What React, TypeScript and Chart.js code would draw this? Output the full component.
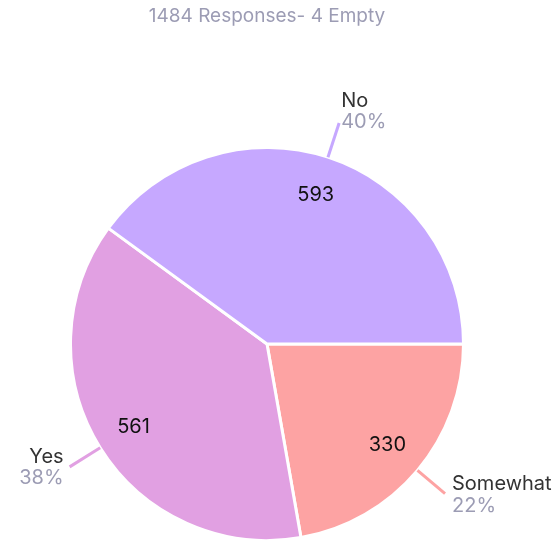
import React, { useEffect, useRef } from "react";
import { Chart, registerables } from "chart.js";

Chart.register(...registerables);

const categories = ["Somewhat", "Yes", "No"];
const counts = [330, 561, 593];
const percentLabels = ["22%", "38%", "40%"];
const sliceColors = ["#fda3a3", "#e1a0e2", "#c6a8ff"];
const titleText = "1484 Responses- 4 Empty";

const FONT = "Inter, 'Noto Sans', sans-serif";

const labelPlugin = {
  id: "pieLabels",
  afterDraw(chart: any) {
    const ctx = chart.ctx;
    const meta = chart.getDatasetMeta(0);
    const area = chart.chartArea;
    ctx.save();
    // title
    ctx.font = `19px ${FONT}`;
    ctx.fillStyle = "#9c9cb4";
    ctx.textAlign = "center";
    ctx.textBaseline = "middle";
    ctx.fillText(titleText, (area.left + area.right) / 2, 16);

    meta.data.forEach((arc: any, i: number) => {
      const { x, y, startAngle, endAngle, outerRadius } = arc.getProps(
        ["x", "y", "startAngle", "endAngle", "outerRadius"],
        true
      );
      const mid = (startAngle + endAngle) / 2;
      const c = Math.cos(mid);
      const s = Math.sin(mid);
      // value inside
      ctx.font = `20px ${FONT}`;
      ctx.fillStyle = "#111111";
      ctx.textAlign = "center";
      ctx.textBaseline = "middle";
      const ri = outerRadius * 0.8;
      ctx.fillText(String(counts[i]), x + c * ri, y + s * ri);

      // leader line
      const r0 = outerRadius;
      const r1 = outerRadius + 36;
      const x0 = x + c * r0, y0 = y + s * r0;
      const x1 = x + c * r1, y1 = y + s * r1;
      ctx.strokeStyle = sliceColors[i];
      ctx.lineWidth = 3;
      ctx.beginPath();
      ctx.moveTo(x0, y0);
      ctx.lineTo(x1, y1);
      ctx.stroke();

      // outer label
      const up = s < 0 && Math.abs(s) > Math.abs(c);
      ctx.textBaseline = "middle";
      let tx: number, nameY: number, pctY: number;
      if (up) {
        ctx.textAlign = "left";
        tx = x1 + 2;
        pctY = y1 - 1;
        nameY = pctY - 21;
      } else if (c >= 0) {
        ctx.textAlign = "left";
        tx = x1 + 7;
        nameY = y1 - 10;
        pctY = y1 + 12;
      } else {
        ctx.textAlign = "right";
        tx = x1 - 6;
        nameY = y1 - 10;
        pctY = y1 + 11;
      }
      ctx.font = `20px ${FONT}`;
      ctx.fillStyle = "#333333";
      ctx.fillText(categories[i], tx, nameY);
      ctx.fillStyle = "#9c9cb4";
      ctx.fillText(percentLabels[i], tx, pctY);
    });
    ctx.restore();
  },
};

export default function App() {
  const ref = useRef<HTMLCanvasElement | null>(null);
  useEffect(() => {
    if (!ref.current) return;
    const chart = new Chart(ref.current, {
      type: "pie",
      data: {
        labels: categories,
        datasets: [
          {
            data: counts,
            backgroundColor: sliceColors,
            borderColor: "#ffffff",
            borderWidth: 3,
          },
        ],
      },
      options: {
        animation: false,
        responsive: false,
        rotation: 90,
        layout: { padding: { left: 69, right: 90, top: 146, bottom: 0 } },
        plugins: {
          legend: { display: false },
          tooltip: { enabled: false },
          title: { display: false },
        },
      },
      plugins: [labelPlugin],
    });
    return () => chart.destroy();
  }, []);
  return (
    <div style={{ position: "fixed", left: 0, top: 0, width: 555, height: 542, background: "#fff" }}>
      <canvas ref={ref} width={555} height={542} style={{ width: 555, height: 542 }} />
    </div>
  );
}
